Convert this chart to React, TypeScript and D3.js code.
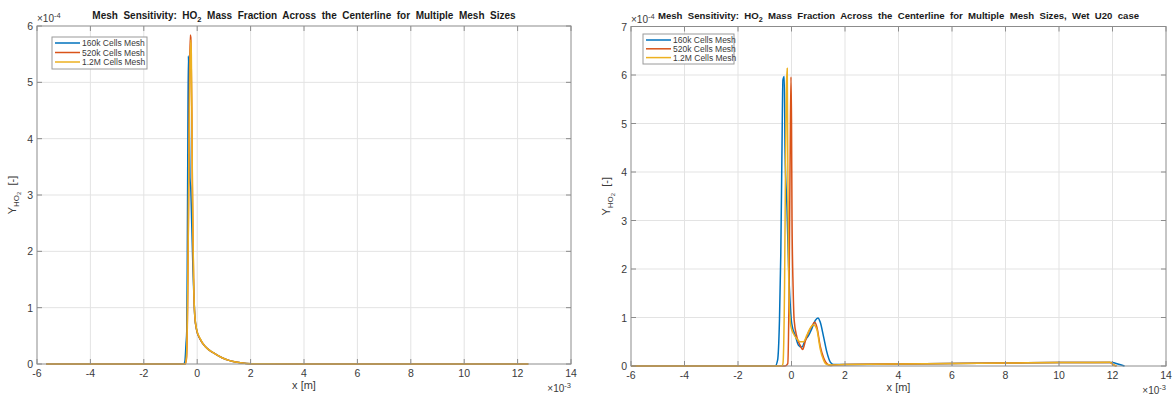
import React, { useEffect, useRef } from 'react';
import * as d3 from 'd3';

// x values in units of 1e-3 m, y values in units of 1e-4
const seriesNames = ['160k Cells Mesh', '520k Cells Mesh', '1.2M Cells Mesh'];
const seriesColors = ['#0072BD', '#D95319', '#EDB120'];
const xTicks = [-6, -4, -2, 0, 2, 4, 6, 8, 10, 12, 14];
const leftYTicks = [0, 1, 2, 3, 4, 5, 6];
const rightYTicks = [0, 1, 2, 3, 4, 5, 6, 7];

type Pt = [number, number];

const left160k: Pt[] = [
  [-5.65, 0], [-1, 0], [-0.5, 0], [-0.46, 0.05], [-0.42, 0.35], [-0.39, 0.6], [-0.37, 2.0],
  [-0.35, 4.0], [-0.33, 5.47], [-0.3, 4.6], [-0.27, 3.3], [-0.24, 3.1], [-0.2, 2.4],
  [-0.16, 1.7], [-0.13, 1.3], [-0.09, 0.85], [-0.02, 0.6], [0.1, 0.45], [0.3, 0.31],
  [0.6, 0.2], [0.93, 0.11], [1.22, 0.06], [1.5, 0.03], [1.84, 0.01], [2.5, 0.003], [4, 0], [12.4, 0],
];
const left520k: Pt[] = [
  [-5.65, 0], [-1, 0], [-0.45, 0], [-0.4, 0.1], [-0.36, 1.0], [-0.32, 3.0], [-0.29, 5.0],
  [-0.26, 5.84], [-0.24, 5.8], [-0.22, 5.2], [-0.2, 4.4], [-0.18, 3.15], [-0.15, 1.97],
  [-0.13, 1.37], [-0.09, 0.85], [-0.02, 0.6], [0.1, 0.45], [0.3, 0.31], [0.6, 0.2],
  [0.93, 0.11], [1.22, 0.06], [1.5, 0.03], [1.84, 0.01], [2.5, 0.003], [4, 0], [12.4, 0],
];
const left1200k: Pt[] = [
  [-5.65, 0], [-1, 0], [-0.44, 0], [-0.4, 0.15], [-0.35, 1.5], [-0.31, 3.6], [-0.27, 5.3],
  [-0.24, 5.75], [-0.22, 5.5], [-0.2, 4.5], [-0.18, 3.2], [-0.15, 2.0], [-0.13, 1.4],
  [-0.09, 0.86], [-0.02, 0.61], [0.1, 0.46], [0.3, 0.31], [0.6, 0.2], [0.93, 0.11],
  [1.22, 0.06], [1.5, 0.03], [1.84, 0.01], [2.5, 0.003], [4, 0], [12.4, 0],
];

const right160k: Pt[] = [
  [-6, 0], [-1, 0], [-0.61, 0], [-0.52, 0.12], [-0.45, 0.94], [-0.4, 2.32], [-0.36, 4.25],
  [-0.32, 5.9], [-0.27, 5.97], [-0.24, 4.39], [-0.17, 3.28], [-0.11, 2.05], [-0.05, 1.29],
  [0.01, 0.87], [0.14, 0.63], [0.26, 0.43], [0.39, 0.39], [0.51, 0.53], [0.64, 0.63],
  [0.76, 0.77], [0.89, 0.94], [0.99, 0.99], [1.07, 0.91], [1.2, 0.6], [1.32, 0.29],
  [1.45, 0.08], [1.57, 0.03], [2, 0.03], [4, 0.04], [6, 0.05], [8, 0.06], [10, 0.07],
  [12, 0.07], [12.2, 0.04], [12.45, 0],
];
const right520k: Pt[] = [
  [-6, 0], [-1, 0], [-0.24, 0], [-0.14, 0.05], [-0.09, 1.6], [-0.05, 4.39], [-0.02, 5.96],
  [0, 5.08], [0.02, 3.0], [0.06, 1.63], [0.1, 0.94], [0.2, 0.6], [0.32, 0.43], [0.42, 0.34],
  [0.51, 0.5], [0.64, 0.7], [0.76, 0.82], [0.86, 0.9], [0.95, 0.8], [1.07, 0.42], [1.2, 0.17],
  [1.32, 0.05], [1.45, 0.01], [1.6, 0.02], [2, 0.03], [4, 0.04], [6, 0.05], [8, 0.06],
  [10, 0.07], [11.9, 0.07], [12.05, 0.02], [12.15, 0],
];
const right1200k: Pt[] = [
  [-6, 0], [-1, 0], [-0.36, 0], [-0.32, 0.05], [-0.26, 1.63], [-0.22, 4.39], [-0.19, 5.76],
  [-0.16, 6.14], [-0.14, 4.39], [-0.11, 2.05], [-0.07, 1.08], [-0.02, 0.81], [0.07, 0.67],
  [0.2, 0.56], [0.32, 0.5], [0.45, 0.5], [0.57, 0.63], [0.7, 0.78], [0.82, 0.85], [0.95, 0.75],
  [1.07, 0.36], [1.2, 0.12], [1.32, 0.03], [1.5, 0.02], [2, 0.03], [4, 0.04], [6, 0.05],
  [8, 0.06], [10, 0.07], [11.9, 0.075], [12.05, 0.02], [12.15, 0],
];

const FONT = 'Liberation Sans, Arial, Helvetica, sans-serif';
const TEXT = '#3a3a3a';
const AXIS = '#8c8c8c';
const GRID = '#e3e3e3';

type PanelCfg = {
  x0: number; x1: number; y0: number; y1: number;
  yTicks: number[]; yMax: number;
  title: string[]; // text before and after the HO2 subscript
  titleSize: number;
  series: Pt[][];
  legend: { x: number; y: number; w: number; h: number; row: number };
};

const panels: PanelCfg[] = [
  {
    x0: 37, x1: 571, y0: 26, y1: 364, yTicks: leftYTicks, yMax: 6,
    title: ['Mesh  Sensitivity:  HO', '  Mass  Fraction  Across  the  Centerline  for  Multiple  Mesh  Sizes'],
    titleSize: 10,
    series: [left160k, left520k, left1200k],
    legend: { x: 52, y: 37, w: 95, h: 32, row: 9.5 },
  },
  {
    x0: 631, x1: 1166, y0: 26.5, y1: 366, yTicks: rightYTicks, yMax: 7,
    title: ['Mesh  Sensitivity:  HO', '  Mass  Fraction  Across  the  Centerline  for  Multiple  Mesh  Sizes,  Wet  U20  case'],
    titleSize: 9.6,
    series: [right160k, right520k, right1200k],
    legend: { x: 643, y: 34, w: 91, h: 30, row: 8.8 },
  },
];

const App = () => {
  const ref = useRef<SVGSVGElement>(null);

  useEffect(() => {
    const svg = d3.select(ref.current);
    svg.selectAll('*').remove();

    panels.forEach((p) => {
      const x = d3.scaleLinear().domain([-6, 14]).range([p.x0, p.x1]);
      const y = d3.scaleLinear().domain([0, p.yMax]).range([p.y1, p.y0]);
      const g = svg.append('g');

      // Grid
      g.selectAll('.gx').data(xTicks.slice(1, -1)).enter().append('line')
        .attr('x1', d => x(d)).attr('x2', d => x(d))
        .attr('y1', p.y0).attr('y2', p.y1)
        .attr('stroke', GRID).attr('stroke-width', 1);
      g.selectAll('.gy').data(p.yTicks.slice(1, -1)).enter().append('line')
        .attr('x1', p.x0).attr('x2', p.x1)
        .attr('y1', d => y(d)).attr('y2', d => y(d))
        .attr('stroke', GRID).attr('stroke-width', 1);

      // Series
      const line = d3.line<Pt>().x(d => x(d[0])).y(d => y(d[1])).curve(d3.curveMonotoneX);
      p.series.forEach((s, i) => {
        g.append('path')
          .attr('d', line(s))
          .attr('fill', 'none')
          .attr('stroke', seriesColors[i])
          .attr('stroke-width', 1.5)
          .attr('stroke-linejoin', 'round');
      });

      // Box
      g.append('rect')
        .attr('x', p.x0).attr('y', p.y0)
        .attr('width', p.x1 - p.x0).attr('height', p.y1 - p.y0)
        .attr('fill', 'none').attr('stroke', AXIS).attr('stroke-width', 1);

      // Ticks
      const tl = 5;
      xTicks.forEach((t) => {
        g.append('line').attr('x1', x(t)).attr('x2', x(t)).attr('y1', p.y1).attr('y2', p.y1 - tl)
          .attr('stroke', AXIS);
        g.append('line').attr('x1', x(t)).attr('x2', x(t)).attr('y1', p.y0).attr('y2', p.y0 + tl)
          .attr('stroke', AXIS);
        g.append('text').attr('x', x(t)).attr('y', p.y1 + 13)
          .attr('text-anchor', 'middle').attr('font-size', 10.5).attr('font-family', FONT)
          .attr('fill', TEXT).text(t);
      });
      p.yTicks.forEach((t) => {
        g.append('line').attr('x1', p.x0).attr('x2', p.x0 + tl).attr('y1', y(t)).attr('y2', y(t))
          .attr('stroke', AXIS);
        g.append('line').attr('x1', p.x1).attr('x2', p.x1 - tl).attr('y1', y(t)).attr('y2', y(t))
          .attr('stroke', AXIS);
        g.append('text').attr('x', p.x0 - 4).attr('y', y(t) + 4)
          .attr('text-anchor', 'end').attr('font-size', 10.5).attr('font-family', FONT)
          .attr('fill', TEXT).text(t);
      });

      // Exponent labels
      const e4 = g.append('text').attr('x', p.x0).attr('y', p.y0 - 4)
        .attr('font-size', 10).attr('font-family', FONT).attr('fill', TEXT);
      e4.append('tspan').text('×10');
      e4.append('tspan').attr('dy', -4).attr('font-size', 7.5).text('-4');

      const e3 = g.append('text').attr('x', p.x1).attr('y', p.y1 + 28)
        .attr('text-anchor', 'end')
        .attr('font-size', 10).attr('font-family', FONT).attr('fill', TEXT);
      e3.append('tspan').text('×10');
      e3.append('tspan').attr('dy', -4).attr('font-size', 7.5).text('-3');

      // Axis labels
      g.append('text').attr('x', (p.x0 + p.x1) / 2).attr('y', p.y1 + 25)
        .attr('text-anchor', 'middle').attr('font-size', 11).attr('font-family', FONT)
        .attr('fill', TEXT).text('x [m]');

      const yl = g.append('text')
        .attr('transform', `translate(${p.x0 - 21}, ${(p.y0 + p.y1) / 2}) rotate(-90)`)
        .attr('text-anchor', 'middle').attr('font-size', 11).attr('font-family', FONT)
        .attr('fill', TEXT).style('white-space', 'pre');
      yl.append('tspan').text('Y');
      yl.append('tspan').attr('dy', 3).attr('font-size', 8).text('HO');
      yl.append('tspan').attr('dy', 2).attr('font-size', 6).text('2');
      yl.append('tspan').attr('dy', -5).attr('font-size', 11).text('  [-]');

      // Title
      const tt = g.append('text').attr('x', (p.x0 + p.x1) / 2).attr('y', 19)
        .attr('text-anchor', 'middle').attr('font-size', p.titleSize).attr('font-weight', 'bold')
        .attr('font-family', FONT).attr('fill', '#1a1a1a')
        .style('white-space', 'pre');
      tt.append('tspan').text(p.title[0]);
      tt.append('tspan').attr('dy', 2.5).attr('font-size', p.titleSize * 0.75).text('2');
      tt.append('tspan').attr('dy', -2.5).text(p.title[1]);

      // Legend
      const L = p.legend;
      g.append('rect').attr('x', L.x).attr('y', L.y).attr('width', L.w).attr('height', L.h)
        .attr('fill', '#fff').attr('stroke', '#9a9a9a').attr('stroke-width', 1);
      seriesNames.forEach((n, i) => {
        const ry = L.y + 6 + i * L.row;
        g.append('line').attr('x1', L.x + 3).attr('x2', L.x + 28).attr('y1', ry).attr('y2', ry)
          .attr('stroke', seriesColors[i]).attr('stroke-width', 1.5);
        g.append('text').attr('x', L.x + 30).attr('y', ry + 3)
          .attr('font-size', 8.5).attr('font-family', FONT).attr('fill', TEXT).text(n);
      });
    });
  }, []);

  return (
    <svg ref={ref} width={1173} height={399}
      style={{ position: 'absolute', left: 0, top: 0, background: '#fff' }} />
  );
};

export default App;
